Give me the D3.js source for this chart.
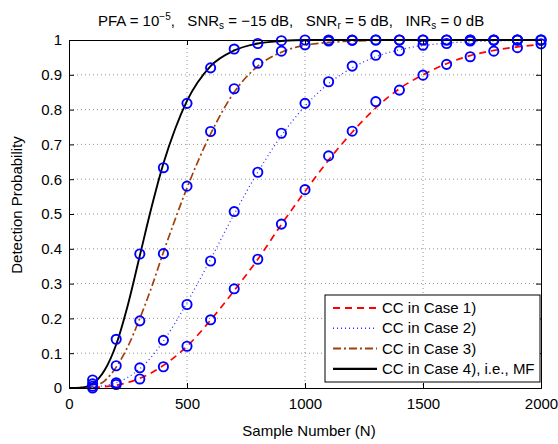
<!DOCTYPE html>
<html><head><meta charset="utf-8">
<script src="https://cdn.jsdelivr.net/npm/d3@7"></script>
<style>body{margin:0;background:#fff}svg{display:block}text{font-family:"Liberation Sans",Arial,sans-serif;fill:#000;white-space:pre}</style>
</head><body><svg id="c" width="558" height="444"></svg>
<script>
const markerN = [100,200,300,400,500,600,700,800,900,1000,1100,1200,1300,1400,1500,1600,1700,1800,1900,2000];
const case1Sim = [0.0,0.01,0.026,0.061,0.12,0.196,0.285,0.37,0.471,0.57,0.667,0.738,0.823,0.856,0.899,0.93,0.952,0.968,0.978,0.989];
const case2Sim = [0.005,0.015,0.058,0.137,0.24,0.365,0.507,0.62,0.732,0.818,0.88,0.925,0.956,0.969,0.985,0.99,0.997,0.999,1,1];
const case3Sim = [0.012,0.064,0.193,0.386,0.58,0.737,0.86,0.933,0.968,0.986,0.997,0.999,1,1,1,1,1,1,1,1];
const case4Sim = [0.023,0.14,0.385,0.633,0.818,0.92,0.974,0.99,0.998,1,1,1,1,1,1,1,1,1,1,1];

const curveN = [0,50,100,150,200,250,300,350,400,450,500,600,700,800,900,1000,1100,1200,1300,1400,1500,1600,1700,1800,1900,2000];
const case1Th = [0,0,0.001,0.004,0.008,0.016,0.028,0.044,0.065,0.09,0.12,0.195,0.28,0.37,0.47,0.565,0.655,0.735,0.805,0.86,0.9,0.932,0.955,0.97,0.98,0.987];
const case2Th = [0,0,0.002,0.007,0.015,0.031,0.055,0.09,0.135,0.187,0.245,0.37,0.5,0.62,0.725,0.81,0.875,0.92,0.952,0.972,0.984,0.991,0.995,0.997,0.999,1];
const case3Th = [0,0.001,0.005,0.02,0.06,0.12,0.2,0.29,0.39,0.485,0.575,0.73,0.85,0.925,0.965,0.985,0.993,0.997,0.999,1,1,1,1,1,1,1];
const case4Th = [0,0.001,0.012,0.05,0.125,0.24,0.38,0.52,0.645,0.745,0.825,0.925,0.97,0.99,0.997,1,1,1,1,1,1,1,1,1,1,1];

const xTicks = [0,500,1000,1500,2000];
const yTicks = [0,0.1,0.2,0.3,0.4,0.5,0.6,0.7,0.8,0.9,1];
const seriesNames = ["CC in Case 1)","CC in Case 2)","CC in Case 3)","CC in Case 4), i.e., MF"];

const styles = [
  {color:"#ff0000", dash:"7,5", w:1.7},
  {color:"#2f2fff", dash:"1,3", w:1.3},
  {color:"#a0410d", dash:"8,3,2,3", w:1.7},
  {color:"#000000", dash:null, w:1.9}
];
const theory = [case1Th,case2Th,case3Th,case4Th];
const sims = [case1Sim,case2Sim,case3Sim,case4Sim];

const svg = d3.select("#c");
const L=69,R=541,T=40,B=388;
const x = d3.scaleLinear().domain([0,2000]).range([L,R]);
const y = d3.scaleLinear().domain([0,1]).range([B,T]);
const FS = "15px";

const g = svg.append("g");
g.selectAll(".gx").data(xTicks.slice(1,-1)).enter().append("line")
  .attr("x1",d=>x(d)).attr("x2",d=>x(d)).attr("y1",T).attr("y2",B)
  .attr("stroke","#777").attr("stroke-width",0.8).attr("stroke-dasharray","1,3");
g.selectAll(".gy").data(yTicks.slice(1,-1)).enter().append("line")
  .attr("y1",d=>y(d)).attr("y2",d=>y(d)).attr("x1",L).attr("x2",R)
  .attr("stroke","#777").attr("stroke-width",0.8).attr("stroke-dasharray","1,3");

const plot = svg.append("g");
theory.forEach((arr,i)=>{
  const line = d3.line().x((d,j)=>x(curveN[j])).y(d=>y(d)).curve(d3.curveMonotoneX);
  plot.append("path").attr("d",line(arr)).attr("fill","none")
    .attr("stroke",styles[i].color).attr("stroke-width",styles[i].w)
    .attr("stroke-dasharray",styles[i].dash);
});
sims.forEach(arr=>{
  plot.selectAll(null).data(arr).enter().append("circle")
    .attr("cx",(d,j)=>x(markerN[j])).attr("cy",d=>y(d)).attr("r",4.6)
    .attr("fill","none").attr("stroke","#0000ff").attr("stroke-width",1.9);
});

const ax = svg.append("g");
const xb = d3.axisBottom(x).tickValues(xTicks).tickSize(-5).tickPadding(10).tickFormat(d3.format("d"));
const xt = d3.axisTop(x).tickValues(xTicks).tickSize(-5).tickFormat("");
const yl = d3.axisLeft(y).tickValues(yTicks).tickSize(-5).tickPadding(7).tickFormat(d=>d===0?"0":d===1?"1":d3.format(".1f")(d));
const yr = d3.axisRight(y).tickValues(yTicks).tickSize(-5).tickFormat("");
[ [xb,`translate(0,${B})`],[xt,`translate(0,${T})`],[yl,`translate(${L},0)`],[yr,`translate(${R},0)`] ].forEach(([a,t])=>{
  const gg = ax.append("g").attr("transform",t).call(a);
  gg.select(".domain").attr("stroke","#000").attr("stroke-width",1);
  gg.selectAll(".tick line").attr("stroke","#000");
  gg.selectAll("text").style("font-size",FS).style("font-family","Liberation Sans, Arial, sans-serif");
});

svg.append("text").attr("x",309).attr("y",436).attr("text-anchor","middle").style("font-size",FS).text("Sample Number (N)");
svg.append("text").attr("transform",`translate(22,205) rotate(-90)`).attr("text-anchor","middle").style("font-size",FS).text("Detection Probability");

const title = svg.append("text").attr("x",98).attr("y",26).attr("text-anchor","start").style("font-size",FS);
title.append("tspan").text("PFA = 10");
title.append("tspan").attr("dy",-6).style("font-size","10px").text("−5");
title.append("tspan").attr("dy",6).text(",   SNR");
title.append("tspan").attr("dy",3).style("font-size","10px").text("s");
title.append("tspan").attr("dy",-3).text(" = −15 dB,   SNR");
title.append("tspan").attr("dy",3).style("font-size","10px").text("r");
title.append("tspan").attr("dy",-3).text(" = 5 dB,   INR");
title.append("tspan").attr("dy",3).style("font-size","10px").text("s");
title.append("tspan").attr("dy",-3).text(" = 0 dB");

const lg = svg.append("g");
lg.append("rect").attr("x",325).attr("y",295).attr("width",215).attr("height",87)
  .attr("fill","#fff").attr("stroke","#000").attr("stroke-width",1);
seriesNames.forEach((name,i)=>{
  const yy = 308 + i*20.3;
  lg.append("line").attr("x1",333).attr("x2",377).attr("y1",yy).attr("y2",yy)
    .attr("stroke",styles[i].color).attr("stroke-width",styles[i].w+0.3).attr("stroke-dasharray",styles[i].dash);
  lg.append("text").attr("x",382).attr("y",yy+5).style("font-size",FS).text(name);
});
</script></body></html>
